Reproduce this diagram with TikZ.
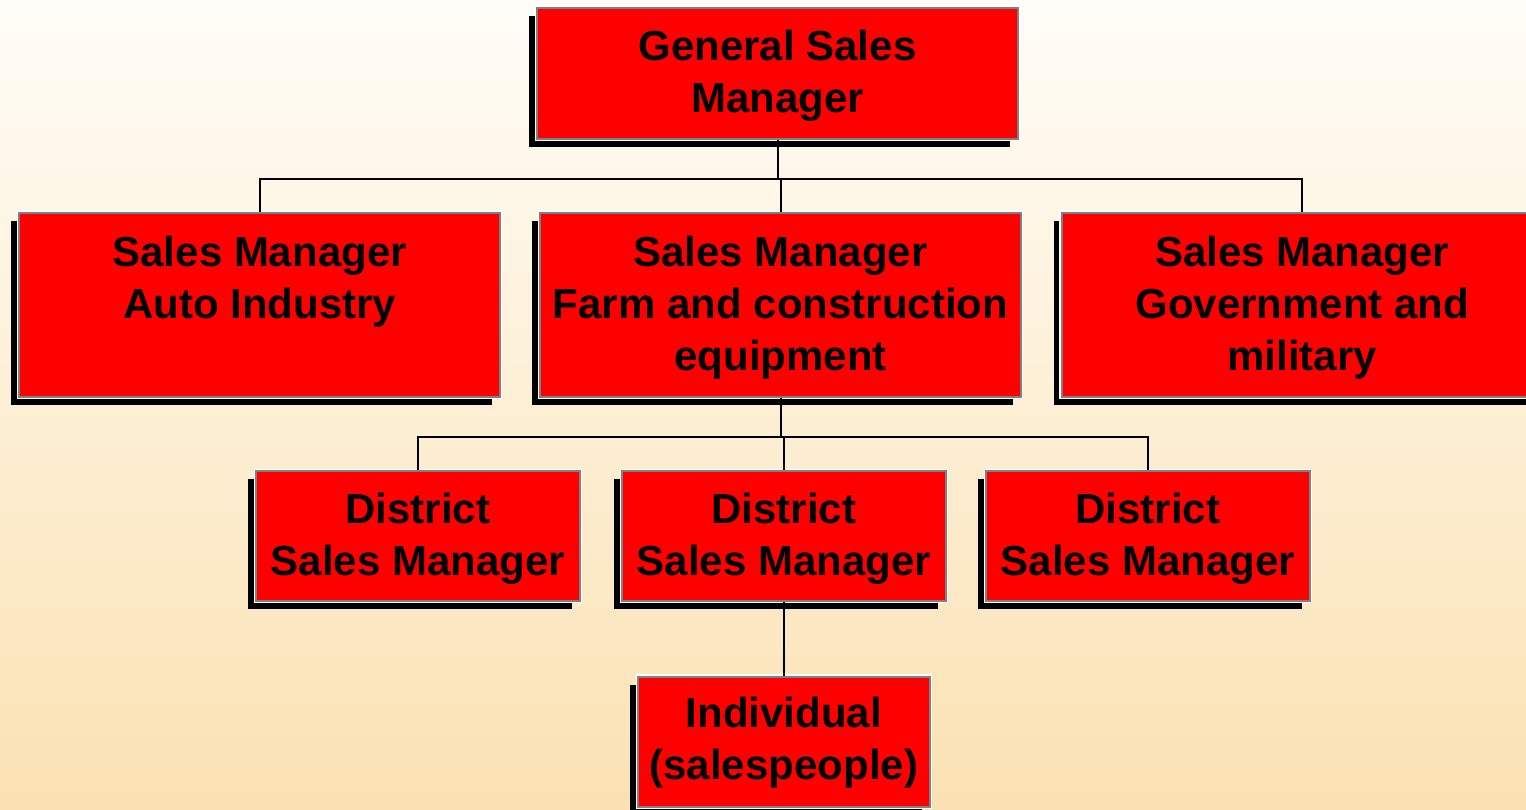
\documentclass[tikz,border=0pt]{standalone}
\usepackage{fontspec}
\setmainfont{Liberation Sans}
\usetikzlibrary{shadows}
\definecolor{bgtop}{HTML}{FFFDF8}
\definecolor{bgbot}{HTML}{FAE1B2}
\definecolor{boxred}{HTML}{FF0000}
\definecolor{boxedge}{HTML}{808080}
\newcommand{\tstrut}{\rule{0pt}{32pt}}
\tikzset{
  orgbox/.style={rectangle, inner sep=0pt, fill=boxred, draw=boxedge, line width=2pt,
    general shadow={fill=black, shadow xshift=-8pt, shadow yshift=-8pt},
    preaction={draw=white, line width=4.5pt},
    minimum width=#1},
  orgtext/.style={anchor=north, inner sep=0pt, align=center, text=black,
    font=\bfseries\fontsize{42}{52}\selectfont},
  conn/.style={draw=black, line width=2pt}
}
\begin{document}
\begin{tikzpicture}[x=1pt, y=-1pt]
\useasboundingbox (0,0) rectangle (1526,809);
\shade[top color=bgtop, bottom color=bgbot] (0,0) rectangle (1526,809);
\clip (0,0) rectangle (1526,809);

% boxes
\node[orgbox=481pt, minimum height=131pt] (gsm) at (777.5,73.5) {};
\node[orgbox=481pt, minimum height=184pt] (sm1) at (259.7,304.7) {};
\node[orgbox=481pt, minimum height=184pt] (sm2) at (780.5,304.7) {};
\node[orgbox=481pt, minimum height=184pt] (sm3) at (1302.2,304.7) {};
\node[orgbox=324pt, minimum height=130pt] (ds1) at (417.8,535.8) {};
\node[orgbox=324pt, minimum height=130pt] (ds2) at (783.8,535.8) {};
\node[orgbox=324pt, minimum height=130pt] (ds3) at (1147.8,535.8) {};
\node[orgbox=292pt, minimum height=130pt] (ind) at (783.8,741.7) {};

% connectors
\coordinate (bus1) at (0,179);
\coordinate (bus2) at (0,436.7);
\draw[conn] (gsm.south) -- (gsm.south |- bus1);
\draw[conn] (sm1.north) |- (sm3.north |- bus1) -- (sm3.north);
\draw[conn] (sm2.north) -- (sm2.north |- bus1);
\draw[conn] (sm2.south) -- (sm2.south |- bus2);
\draw[conn] (ds1.north) |- (ds3.north |- bus2) -- (ds3.north);
\draw[conn] (ds2.north) -- (ds2.north |- bus2);
\draw[conn] (ds2.south) -- (ind.north);

% texts
\node[orgtext] (tgsm) at (777.5,28) {\tstrut General Sales\\Manager};
\node[orgtext] (tsm1) at (259.7,234) {\tstrut Sales Manager\\Auto Industry};
\node[orgtext] (tsm2) at (780.5,234) {\tstrut Sales Manager\\Farm and construction\\equipment};
\node[orgtext] (tsm3) at (1302.2,234) {\tstrut Sales Manager\\Government and\\military};
\node[orgtext] (tds1) at (417.8,491) {\tstrut District\\Sales Manager};
\node[orgtext] (tds2) at (783.8,491) {\tstrut District\\Sales Manager};
\node[orgtext] (tds3) at (1147.8,491) {\tstrut District\\Sales Manager};
\node[orgtext] (tind) at (783.8,695) {\tstrut Individual\\(salespeople)};
\end{tikzpicture}
\end{document}
